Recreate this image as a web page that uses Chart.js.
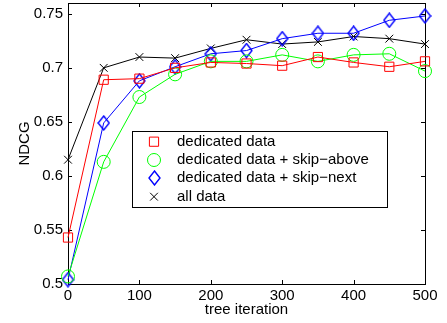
<!DOCTYPE html>
<html>
<head>
<meta charset="utf-8">
<script src="https://cdn.jsdelivr.net/npm/chart.js@4/dist/chart.umd.min.js"></script>
<style>
  html, body { margin: 0; padding: 0; background: #fff; }
  #wrap { width: 447px; height: 323px; }
</style>
</head>
<body>
<div id="wrap"><canvas id="ndcgChart" width="447" height="323"></canvas></div>
<script>
// данные
const iterations = [0, 50, 100, 150, 200, 250, 300, 350, 400, 450, 500];
const dedicated = [0.543, 0.689, 0.690, 0.700, 0.705, 0.704, 0.702, 0.710, 0.705, 0.701, 0.706];
const skipAbove = [0.507, 0.613, 0.673, 0.694, 0.706, 0.706, 0.712, 0.706, 0.712, 0.713, 0.697];
const skipNext  = [0.504, 0.649, 0.688, 0.701, 0.713, 0.716, 0.727, 0.732, 0.732, 0.744, 0.748];
const allData   = [0.615, 0.700, 0.710, 0.709, 0.718, 0.726, 0.722, 0.724, 0.729, 0.727, 0.722];
const seriesNames = ['dedicated data', 'dedicated data + skip\u2212above', 'dedicated data + skip\u2212next', 'all data'];
const xTicks = [0, 100, 200, 300, 400, 500];
const yTicks = [0.5, 0.55, 0.6, 0.65, 0.7, 0.75];

const FONT = '"Liberation Sans", Arial, Helvetica, sans-serif';

// ромб чуть выше, чем шире — как в matlab
function diamondMarker(w, h, color) {
    const c = document.createElement('canvas');
    c.width = w + 2; c.height = h + 2;
    const g = c.getContext('2d');
    g.strokeStyle = color; g.lineWidth = 1.4;
    g.beginPath();
    g.moveTo(c.width / 2, 1);
    g.lineTo(c.width - 1, c.height / 2);
    g.lineTo(c.width / 2, c.height - 1);
    g.lineTo(1, c.height / 2);
    g.closePath();
    g.stroke();
    return c;
}
const diamond = diamondMarker(11, 14, '#0000ff');

function toPoints(ys) {
    return iterations.map((x, i) => ({x: x, y: ys[i]}));
}

function makeSet(label, ys, color, style, radius) {
    return {
        label: label,
        data: toPoints(ys),
        borderColor: color,
        borderWidth: 1,
        pointStyle: style,
        pointRadius: radius,
        pointBorderColor: color,
        pointBackgroundColor: 'rgba(0,0,0,0)',
        pointBorderWidth: 1,
        tension: 0,
        fill: false,
        clip: false
    };
}

// рамка, внутренние засечки и легенда
const framePlugin = {
    id: 'frame',
    beforeDatasetsDraw(chart) {
        const {ctx, chartArea: a, scales} = chart;
        ctx.save();
        ctx.strokeStyle = '#000';
        ctx.lineWidth = 1;
        ctx.strokeRect(a.left + 0.5, a.top + 0.5, a.right - a.left, a.bottom - a.top);
        ctx.beginPath();
        xTicks.forEach(v => {
            const px = Math.round(scales.x.getPixelForValue(v)) + 0.5;
            ctx.moveTo(px, a.bottom); ctx.lineTo(px, a.bottom - 4);
            ctx.moveTo(px, a.top); ctx.lineTo(px, a.top + 4);
        });
        yTicks.forEach(v => {
            const py = Math.round(scales.y.getPixelForValue(v)) + 0.5;
            ctx.moveTo(a.left, py); ctx.lineTo(a.left + 4, py);
            ctx.moveTo(a.right, py); ctx.lineTo(a.right - 4, py);
        });
        ctx.stroke();
        ctx.restore();
    },
    afterDatasetsDraw(chart) {
        const ctx = chart.ctx;
        const box = {x: 132, y: 131, w: 255, h: 76};
        ctx.save();
        ctx.fillStyle = '#fff';
        ctx.fillRect(box.x, box.y, box.w, box.h);
        ctx.strokeStyle = '#000';
        ctx.lineWidth = 1;
        ctx.strokeRect(box.x + 0.5, box.y + 0.5, box.w, box.h);
        ctx.font = '15px ' + FONT;
        ctx.textBaseline = 'middle';
        ctx.fillStyle = '#000';
        const rows = [141.7, 160, 178.3, 196.7];
        chart.data.datasets.forEach((ds, i) => {
            const mx = 154, my = rows[i];
            ctx.strokeStyle = ds.borderColor;
            ctx.beginPath();
            if (ds.pointStyle === 'rect') {
                const s = ds.pointRadius * Math.SQRT1_2;
                ctx.rect(mx - s, my - s, 2 * s, 2 * s);
            } else if (ds.pointStyle === 'circle') {
                ctx.arc(mx, my, ds.pointRadius, 0, Math.PI * 2);
            } else if (ds.pointStyle === 'crossRot') {
                const s = ds.pointRadius * Math.SQRT1_2;
                ctx.moveTo(mx - s, my - s); ctx.lineTo(mx + s, my + s);
                ctx.moveTo(mx - s, my + s); ctx.lineTo(mx + s, my - s);
            }
            ctx.stroke();
            if (ds.pointStyle instanceof HTMLCanvasElement) {
                const img = ds.pointStyle;
                ctx.drawImage(img, Math.round(mx - img.width / 2), Math.round(my - img.height / 2));
            }
            ctx.fillText(ds.label, 177, my);
        });
        ctx.restore();
    }
};

document.addEventListener('DOMContentLoaded', function() {
    const ctx = document.getElementById('ndcgChart').getContext('2d');

    new Chart(ctx, {
        type: 'line',
        data: {
            datasets: [
                makeSet(seriesNames[0], dedicated, '#ff0000', 'rect', 6.5),
                makeSet(seriesNames[1], skipAbove, '#00ff00', 'circle', 6.5),
                makeSet(seriesNames[2], skipNext, '#0000ff', diamond, 7),
                makeSet(seriesNames[3], allData, '#000000', 'crossRot', 5.5)
            ]
        },
        options: {
            responsive: false,
            animation: false,
            devicePixelRatio: 1,
            layout: {
                autoPadding: false,
                padding: {top: 3, right: 22, left: 0, bottom: 0}
            },
            plugins: {
                legend: {display: false},
                tooltip: {enabled: false}
            },
            scales: {
                x: {
                    type: 'linear',
                    min: 0,
                    max: 500,
                    grid: {display: false, drawTicks: false},
                    border: {display: false},
                    afterBuildTicks: s => { s.ticks = xTicks.map(v => ({value: v})); },
                    afterFit: s => { s.height = 39; s.paddingLeft = 0; s.paddingRight = 0; },
                    ticks: {
                        padding: 3,
                        color: '#000',
                        maxRotation: 0,
                        font: {family: FONT, size: 15},
                        callback: v => String(v)
                    },
                    title: {
                        display: true,
                        text: 'tree iteration',
                        color: '#000',
                        font: {family: FONT, size: 15},
                        padding: {top: 0, bottom: 4}
                    }
                },
                y: {
                    type: 'linear',
                    min: 0.5,
                    max: 0.76,
                    grid: {display: false, drawTicks: false},
                    border: {display: false},
                    afterBuildTicks: s => { s.ticks = yTicks.map(v => ({value: v})); },
                    afterFit: s => { s.width = 68; s.paddingTop = 0; s.paddingBottom = 0; },
                    ticks: {
                        padding: 5,
                        color: '#000',
                        font: {family: FONT, size: 15},
                        callback: v => String(+v.toFixed(2))
                    },
                    title: {
                        display: true,
                        text: 'NDCG',
                        color: '#000',
                        font: {family: FONT, size: 15},
                        padding: {top: 16, bottom: 0}
                    }
                }
            }
        },
        plugins: [framePlugin]
    });
});
</script>
</body>
</html>
